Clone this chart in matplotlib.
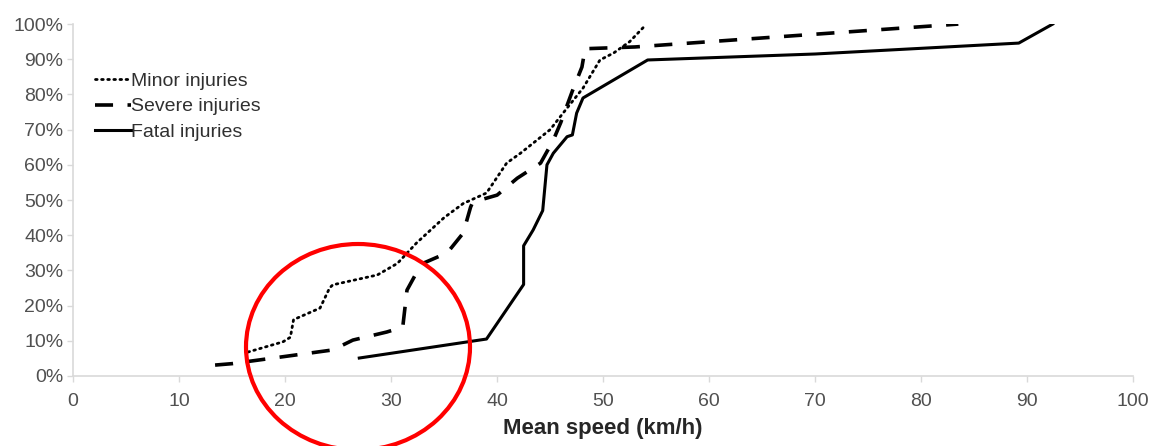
import matplotlib
matplotlib.use("Agg")
import matplotlib.pyplot as plt
from matplotlib.patches import Ellipse

plt.rcParams["font.family"] = ["Liberation Sans", "DejaVu Sans"]

# mean speed (km/h) vs cumulative share of injuries (%)
minor_x = [16.5, 19.8, 20.5, 20.8, 23.3, 24.2, 24.5, 28.7, 30.6, 32.4, 35.0, 36.8,
           39.0, 40.9, 42.2, 45.0, 46.3, 48.1, 49.7, 51.0, 52.5, 54.0]
minor_y = [6.8, 9.7, 11.0, 16.0, 19.3, 25.0, 25.9, 28.7, 32.0, 37.8, 45.0, 49.0,
           52.0, 60.5, 63.3, 70.0, 75.0, 81.8, 89.8, 91.8, 95.0, 99.7]

severe_x = [13.4, 15.0, 18.9, 24.5, 26.4, 29.6, 31.1, 31.5, 32.7, 33.0, 35.3, 36.8,
            37.5, 37.7, 40.0, 41.9, 44.1, 45.3, 46.0, 47.1, 48.0, 48.3, 53.0, 83.5]
severe_y = [3.1, 3.5, 5.1, 7.4, 10.2, 12.5, 13.9, 24.4, 31.0, 32.0, 35.0, 40.6,
            48.0, 49.4, 51.4, 56.2, 60.5, 67.0, 72.0, 81.0, 87.8, 93.0, 93.5, 100.0]

fatal_x = [27.0, 39.0, 42.5, 42.5, 43.4, 44.3, 44.7, 45.3, 46.6, 47.1, 47.5, 48.1,
           54.2, 70.0, 89.2, 92.4]
fatal_y = [5.1, 10.5, 26.0, 37.0, 41.5, 47.0, 60.0, 63.3, 68.0, 68.5, 74.7, 79.0,
           89.8, 91.5, 94.6, 100.0]

xticks = list(range(0, 101, 10))
yticks = list(range(0, 101, 10))

fig = plt.figure(figsize=(11.55, 4.46), dpi=100)
ax = fig.add_axes([0.0632, 0.157, 0.918, 0.789])

ax.plot(minor_x, minor_y, color="black", lw=2.0, linestyle=(0, (0.6, 1.6)),
        dash_capstyle="round", label="Minor injuries")
ax.plot(severe_x, severe_y, color="black", lw=2.6, linestyle=(0, (5, 4)),
        label="Severe injuries")
ax.plot(fatal_x, fatal_y, color="black", lw=2.2, label="Fatal injuries")

ax.set_xlim(0, 100)
ax.set_ylim(0, 100)
ax.set_xticks(xticks)
ax.set_yticks(yticks)
ax.set_yticklabels(["%d%%" % v for v in yticks])

for side in ("top", "right"):
    ax.spines[side].set_visible(False)
for side in ("left", "bottom"):
    ax.spines[side].set_color("#d9d9d9")
    ax.spines[side].set_linewidth(1.2)
ax.tick_params(colors="#d9d9d9", labelcolor="#505050", labelsize=14,
               length=4, width=1)
ax.tick_params(axis="y", pad=3)
ax.tick_params(axis="x", pad=8)

ax.set_xlabel("Mean speed (km/h)", fontsize=16, fontweight="bold",
              color="#262626", labelpad=6)

leg = ax.legend(loc="upper left", bbox_to_anchor=(0.013, 0.886), frameon=False,
                fontsize=14, handlelength=1.85, handletextpad=0.0,
                labelspacing=0.42, borderaxespad=0)
for t in leg.get_texts():
    t.set_color("#303030")

# red highlight circle around the low speed region
circle = Ellipse((358 / 1155, 1 - 347 / 446), 224 / 1155, 206 / 446,
                 transform=fig.transFigure, fill=False, edgecolor="#ff0000",
                 lw=3, clip_on=False)
fig.patches.append(circle)

fig.savefig("out.png", dpi=100)
